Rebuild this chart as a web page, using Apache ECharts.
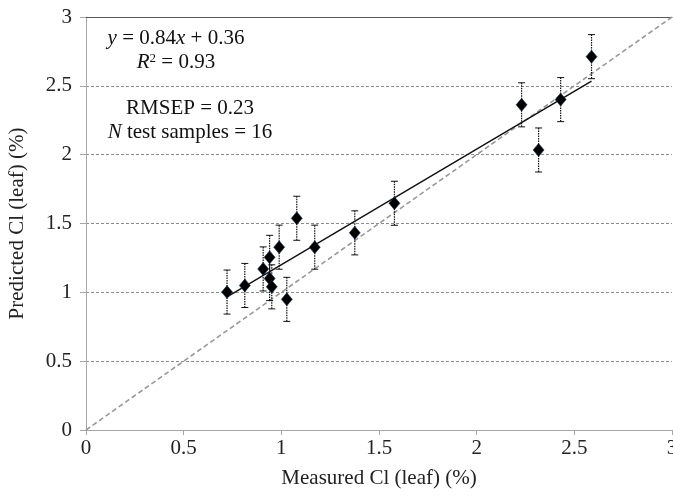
<!DOCTYPE html>
<html><head><meta charset="utf-8">
<script src="https://cdn.jsdelivr.net/npm/echarts@6/dist/echarts.min.js"></script>
<style>html,body{margin:0;padding:0;background:#fff}#c{width:673px;height:496px}</style>
</head><body><div id="c"></div>
<script>
// Data
const measured  = [0.722, 0.813, 0.907, 0.940, 0.940, 0.951, 0.989, 1.028, 1.079, 1.171, 1.376, 1.579, 2.230, 2.317, 2.430, 2.588];
const predicted = [1.002, 1.050, 1.170, 1.254, 1.100, 1.040, 1.328, 0.949, 1.538, 1.328, 1.432, 1.647, 2.362, 2.034, 2.400, 2.712];
const errors    = [0.16, 0.16, 0.16, 0.16, 0.16, 0.16, 0.16, 0.16, 0.16, 0.16, 0.16, 0.16, 0.16, 0.16, 0.16, 0.16];
const fitSlope = [0.84], fitIntercept = [0.36];
const fitRange = [0.722, 2.588];
const identity = [[0, 0], [3, 3]];
const xTicks = [0, 0.5, 1, 1.5, 2, 2.5, 3];
const yTicks = [0, 0.5, 1, 1.5, 2, 2.5, 3];

const pts = measured.map((m, i) => [m, predicted[i], errors[i]]);
const fitLine = fitRange.map(x => [x, fitSlope[0] * x + fitIntercept[0]]);

const FONT = '"Liberation Serif","Times New Roman",serif';
const chart = echarts.init(document.getElementById('c'), null, {renderer: 'canvas'});
chart.setOption({
  animation: false,
  backgroundColor: '#fff',
  grid: {left: 86, right: 1, top: 17, bottom: 66, containLabel: false, outerBoundsMode: 'none'},
  xAxis: [{
    type: 'value', min: 0, max: 3, interval: 0.5,
    name: 'Measured Cl (leaf) (%)', nameLocation: 'middle', nameGap: 38,
    nameTextStyle: {fontFamily: FONT, fontSize: 21, color: '#222'},
    axisLine: {show: true, lineStyle: {color: '#a6a6a6', width: 1}},
    axisTick: {show: true, length: 5, lineStyle: {color: '#a6a6a6'}},
    axisLabel: {fontFamily: FONT, fontSize: 21, color: '#222', margin: 8, hideOverlap: false,
      formatter: v => xTicks.includes(v) ? String(v) : ''},
    splitLine: {show: false}
  }, {
    type: 'value', min: 0, max: 3, position: 'top',
    axisLine: {show: true, onZero: false, lineStyle: {color: '#595959', width: 1.2}},
    axisTick: {show: false}, axisLabel: {show: false}, splitLine: {show: false}
  }],
  yAxis: {
    type: 'value', min: 0, max: 3, interval: 0.5,
    name: 'Predicted Cl (leaf) (%)', nameLocation: 'middle', nameGap: 58,
    nameTextStyle: {fontFamily: FONT, fontSize: 21, color: '#222'},
    axisLine: {show: true, lineStyle: {color: '#a6a6a6', width: 1}},
    axisTick: {show: true, length: 6, lineStyle: {color: '#a6a6a6'}},
    axisLabel: {fontFamily: FONT, fontSize: 21, color: '#222', margin: 14,
      formatter: v => yTicks.includes(v) ? String(v) : ''},
    splitLine: {show: true, lineStyle: {color: '#8c8c8c', type: [3, 2], width: 1}}
  },
  graphic: [
    {type: 'text', style: {
      x: 176, y: 28, textAlign: 'center', fill: '#111', font: '21px ' + FONT,
      text: '{i|y} = 0.84{i|x} + 0.36',
      rich: {i: {fontStyle: 'italic', fontFamily: FONT, fontSize: 21, fill: '#111'}}
    }},
    {type: 'text', style: {
      x: 176, y: 52, textAlign: 'center', fill: '#111', font: '21px ' + FONT,
      text: '{i|R}{s|2} = 0.93',
      rich: {i: {fontStyle: 'italic', fontFamily: FONT, fontSize: 21, fill: '#111'},
             s: {fontFamily: FONT, fontSize: 13, fill: '#111', verticalAlign: 'top', padding: [0, 0, 8, 0]}}
    }},
    {type: 'text', style: {
      x: 190, y: 98, textAlign: 'center', fill: '#111', font: '21px ' + FONT,
      text: 'RMSEP = 0.23'
    }},
    {type: 'text', style: {
      x: 190, y: 122, textAlign: 'center', fill: '#111', font: '21px ' + FONT,
      text: '{i|N} test samples = 16',
      rich: {i: {fontStyle: 'italic', fontFamily: FONT, fontSize: 21, fill: '#111'}}
    }}
  ],
  series: [
    {type: 'line', data: identity, symbol: 'none', silent: true,
     lineStyle: {color: '#999', width: 1.6, type: [5, 3]}, z: 2},
    {type: 'custom', data: pts, z: 3, silent: true,
     renderItem: (params, api) => {
       const x = api.value(0), y = api.value(1), e = api.value(2);
       const t = api.coord([x, y + e]), b = api.coord([x, y - e]);
       const w = 3.5;
       const st = {stroke: '#111', lineWidth: 1};
       return {type: 'group', children: [
         {type: 'line', shape: {x1: t[0], y1: t[1], x2: b[0], y2: b[1]}, style: {stroke: '#111', lineWidth: 1.2, lineDash: [1.5, 1]}},
         {type: 'line', shape: {x1: t[0] - w, y1: t[1], x2: t[0] + w, y2: t[1]}, style: st},
         {type: 'line', shape: {x1: b[0] - w, y1: b[1], x2: b[0] + w, y2: b[1]}, style: st}
       ]};
     }},
    {type: 'line', data: fitLine, symbol: 'none', silent: true,
     lineStyle: {color: '#111', width: 1.4}, z: 4},
    {type: 'scatter', data: pts.map(p => [p[0], p[1]]), symbol: 'diamond', symbolSize: [11, 13],
     itemStyle: {color: '#000', opacity: 1, borderColor: '#1c3358', borderWidth: 0.6}, z: 5}
  ]
});
</script></body></html>
